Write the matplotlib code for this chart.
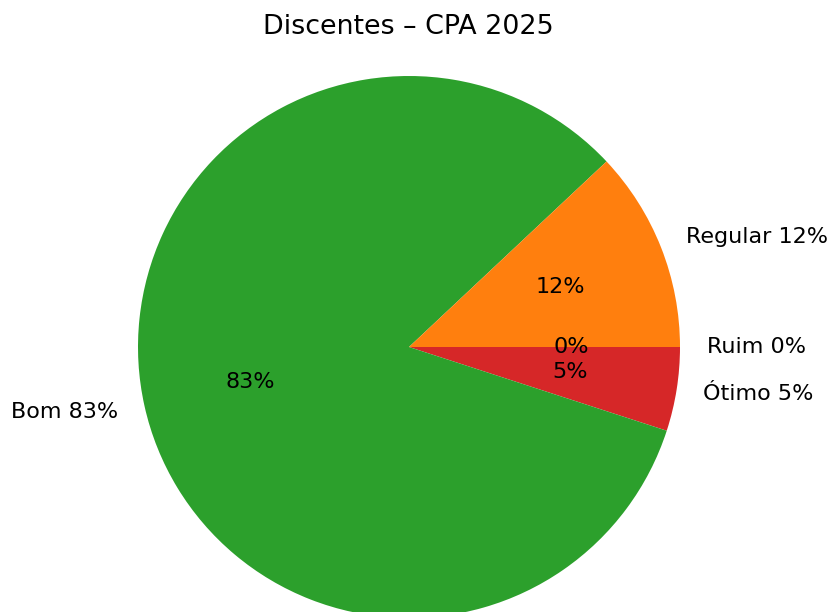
import matplotlib
matplotlib.use("Agg")
import matplotlib.pyplot as plt

# Dados (percentuais)
categorias = ["Ótimo", "Bom", "Regular", "Ruim"]
valores = [5, 83, 12, 0]
cores = ["#d62728", "#2ca02c", "#ff7f0e", "#1f77b4"]
titulo = "Discentes – CPA 2025"

rotulos = [f"{c} {v}%" for c, v in zip(categorias, valores)]

W, H = 830, 612
fig = plt.figure(figsize=(W / 100, H / 100), dpi=100)

# centro e raio da pizza em pixels
cx, cy, r = 409, 612 - 347, 271
L = 1.25
ax = fig.add_axes([(cx - r * L) / W, (cy - r * L) / H, 2 * r * L / W, 2 * r * L / H])

ax.pie(valores, labels=rotulos, colors=cores, autopct="%1.0f%%",
       startangle=0, counterclock=False,
       textprops={"fontsize": 16})
ax.set_xlim(-L, L)
ax.set_ylim(-L, L)
ax.set_aspect("equal")
ax.axis("off")

fig.text(408 / W, 1 - 27 / H, titulo, ha="center", va="center", fontsize=19.4)

fig.savefig("out.png", dpi=100)
